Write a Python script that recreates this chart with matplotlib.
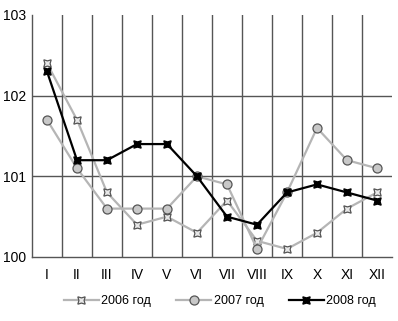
import matplotlib
matplotlib.use("Agg")
import matplotlib.pyplot as plt

months = ["I", "II", "III", "IV", "V", "VI", "VII", "VIII", "IX", "X", "XI", "XII"]
y2006 = [102.4, 101.7, 100.8, 100.4, 100.5, 100.3, 100.7, 100.2, 100.1, 100.3, 100.6, 100.8]
y2007 = [101.7, 101.1, 100.6, 100.6, 100.6, 101.0, 100.9, 100.1, 100.8, 101.6, 101.2, 101.1]
y2008 = [102.3, 101.2, 101.2, 101.4, 101.4, 101.0, 100.5, 100.4, 100.8, 100.9, 100.8, 100.7]
labels = ["2006 год", "2007 год", "2008 год"]
yticks = [100, 101, 102, 103]

plt.rcParams['font.family'] = ['Liberation Sans', 'DejaVu Sans']

W, H = 398, 321
fig = plt.figure(figsize=(W/100, H/100), dpi=100)
ax = fig.add_axes([32/W, 1-257/H, 360/W, 242/H])
x = list(range(len(months)))

gc = "#555555"
for b in [i + 0.5 for i in range(len(months) - 1)]:
    ax.axvline(b, color=gc, lw=1.0, zorder=1)
for v in [101, 102]:
    ax.axhline(v, color=gc, lw=1.0, zorder=1)

ax.plot(x, y2006, color="#b5b5b5", lw=1.6, marker=(4, 1, 45), ms=7.5,
        mfc="#e8e8e8", mec="#555555", mew=0.9, label=labels[0], zorder=3)
ax.plot(x, y2007, color="#b5b5b5", lw=1.6, marker="o", ms=6.5,
        mfc="#c8c8c8", mec="#555555", mew=0.9, label=labels[1], zorder=3)
ax.plot(x, y2008, color="black", lw=1.6, marker=(4, 1, 45), ms=7.5,
        mfc="black", mec="black", mew=0.9, label=labels[2], zorder=4)

ax.set_xlim(-0.5, 11.5)
ax.set_ylim(100, 103)
ax.set_yticks(yticks)
ax.set_xticks(x)
ax.set_xticklabels(months)
ax.tick_params(length=0, labelsize=10, colors="black")
ax.tick_params(axis='x', pad=8)
ax.tick_params(axis='y', pad=4)
for s in ["top", "right"]:
    ax.spines[s].set_visible(False)
for s in ["left", "bottom"]:
    ax.spines[s].set_color(gc)
    ax.spines[s].set_linewidth(1.0)

fig.legend(loc="center", bbox_to_anchor=(220/W, 1-301/H), ncol=3, frameon=False,
           fontsize=9, handlelength=2.8, columnspacing=2.0, handletextpad=0.2)
fig.savefig("out.png", dpi=100, facecolor="white")
